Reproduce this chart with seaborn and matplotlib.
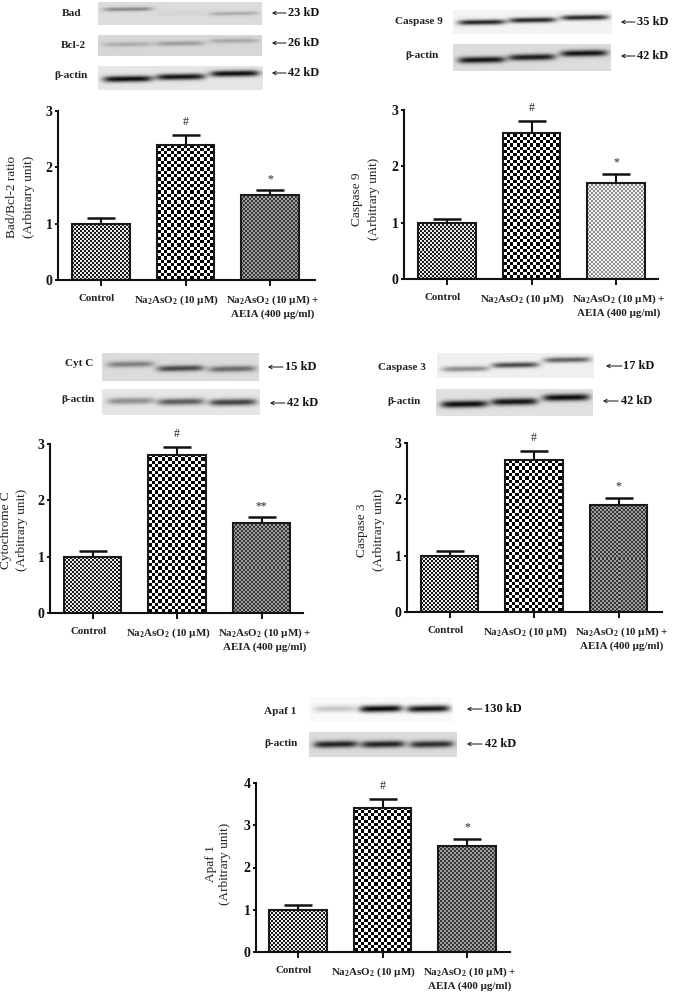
import numpy as np
import pandas as pd
import matplotlib
matplotlib.use("Agg")
import matplotlib.pyplot as plt
from matplotlib.transforms import ScaledTranslation
import seaborn as sns

W, H = 673, 992

# chart values
categories = ["Control", "Na$_2$AsO$_2$ (10 µM)", "Na$_2$AsO$_2$ (10 µM) +\nAEIA (400 µg/ml)"]

bad_vals = [1.0, 2.4, 1.5]
bad_errs = [0.10, 0.17, 0.10]
cas9_vals = [1.0, 2.6, 1.7]
cas9_errs = [0.07, 0.20, 0.17]
cytc_vals = [1.0, 2.8, 1.6]
cytc_errs = [0.10, 0.15, 0.10]
cas3_vals = [1.0, 2.7, 1.9]
cas3_errs = [0.08, 0.16, 0.13]
apaf_vals = [1.0, 3.4, 2.5]
apaf_errs = [0.12, 0.22, 0.18]

sig_marks = ["", "#", "*"]
cytc_marks = ["", "#", "**"]
ticks_3 = [0, 1, 2, 3]
ticks_4 = [0, 1, 2, 3, 4]

# band darkness per lane, read by eye from the blots
bad_bands = [0.38, 0.03, 0.22]
bcl2_bands = [0.20, 0.28, 0.22]
actin1_bands = [0.95, 0.92, 0.95]
cas9_bands = [0.85, 0.85, 0.85]
actin2_bands = [0.92, 0.88, 0.92]
cytc_bands = [0.42, 0.68, 0.52]
actin3_bands = [0.38, 0.60, 0.72]
cas3_bands = [0.42, 0.70, 0.60]
actin4_bands = [0.95, 0.92, 0.95]
apaf_bands = [0.20, 0.97, 0.92]
actin5_bands = [0.85, 0.85, 0.80]

# pattern per bar: cell size in px, dark grey, light grey
ctrl_pat = (2, 0.10, 0.92)
na_pat = (3.3, 0.0, 1.0)
grey_pat = (2, 0.22, 0.62)
light_pat = (2, 0.55, 0.95)

sns.set_style("white")
plt.rcParams["font.family"] = ["Liberation Serif", "DejaVu Serif"]
plt.rcParams["mathtext.default"] = "regular"
plt.rcParams["font.weight"] = "bold"

fig = plt.figure(figsize=(W / 100, H / 100), dpi=100)

# whole-figure layer in pixel coordinates for blots and their labels
top = fig.add_axes([0, 0, 1, 1])
top.set_axis_off()


def draw_blot(x0, x1, y0, y1, bg, bands, ys, thick=0.11):
    """Paint a small gel strip: soft dark bands on a grey background."""
    nx, ny = int(x1 - x0) * 2, int(y1 - y0) * 2
    xx, yy = np.meshgrid(np.linspace(0, 1, nx), np.linspace(0, 1, ny))
    img = np.full(xx.shape, float(bg))
    centers = [0.18, 0.50, 0.83]
    dark = np.zeros(xx.shape)
    for c, d, yc in zip(centers, bands, ys):
        win = np.exp(-((xx - c) / 0.15) ** 6)
        tilt = yc + (c - xx) * 0.10
        dark += d * win * np.exp(-((yy - tilt) / thick) ** 2)
    img = img * (1 - np.clip(dark, 0, 1))
    top.imshow(img, extent=(x0, x1, y1, y0), cmap="gray", vmin=0, vmax=1,
               aspect="auto", interpolation="bilinear", zorder=1)


def blot_label(text, x, y, ax0, ax1, kd_x, kd, kd_y=None):
    top.text(x, y, text, ha="center", va="center", fontsize=8.1, color="#222222")
    kd_y = y if kd_y is None else kd_y
    top.annotate("", xy=(ax0, kd_y), xytext=(ax1, kd_y),
                 arrowprops=dict(arrowstyle="->,head_length=0.22,head_width=0.12",
                                 lw=0.7, color="#111111", shrinkA=0, shrinkB=0))
    top.text(kd_x, kd_y, kd, ha="left", va="center", fontsize=8.9, color="#111111")


# panel 1
draw_blot(98, 262, 2, 25, 0.86, bad_bands, [0.31, 0.50, 0.50], 0.09)
draw_blot(98, 262, 35, 56, 0.84, bcl2_bands, [0.44, 0.40, 0.27])
draw_blot(98, 263, 66, 90, 0.90, actin1_bands, [0.54, 0.45, 0.31], 0.13)
blot_label("Bad", 72, 14, 272, 286, 288, "23 kD", 13)
blot_label("Bcl-2", 73, 45, 272, 286, 288, "26 kD", 43)
blot_label("β-actin", 71, 75, 272, 286, 288, "42 kD", 73)

# panel 2
draw_blot(453, 612, 10, 34, 0.95, cas9_bands, [0.51, 0.42, 0.31])
draw_blot(453, 611, 44, 71, 0.86, actin2_bands, [0.59, 0.49, 0.34], 0.12)
blot_label("Caspase 9", 419, 22, 621, 635, 637, "35 kD")
blot_label("β-actin", 422, 56, 621, 635, 637, "42 kD")

# panel 3
draw_blot(102, 259, 353, 381, 0.86, cytc_bands, [0.40, 0.55, 0.57])
draw_blot(102, 260, 389, 415, 0.90, actin3_bands, [0.46, 0.49, 0.51], 0.13)
blot_label("Cyt C", 79, 364, 268, 283, 285, "15 kD", 367)
blot_label("β-actin", 78, 400, 270, 285, 287, "42 kD", 403)

# panel 4
draw_blot(437, 594, 353, 378, 0.94, cas3_bands, [0.64, 0.48, 0.27])
draw_blot(436, 593, 389, 416, 0.88, actin4_bands, [0.56, 0.47, 0.31], 0.13)
blot_label("Caspase 3", 402, 367, 606, 622, 623, "17 kD", 366)
blot_label("β-actin", 404, 401, 603, 618, 621, "42 kD")

# panel 5
draw_blot(309, 453, 697, 722, 0.98, apaf_bands, [0.47, 0.47, 0.47], 0.14)
draw_blot(309, 457, 732, 757, 0.86, actin5_bands, [0.49, 0.49, 0.49], 0.14)
blot_label("Apaf 1", 280, 711, 467, 482, 484, "130 kD", 709)
blot_label("β-actin", 281, 744, 467, 482, 485, "42 kD")

top.set_xlim(0, W)
top.set_ylim(H, 0)


def checker(ax, bar, pattern):
    """Fill a bar with a checkerboard, one array cell per screen pixel so nothing gets resampled."""
    cell, dark, light = pattern
    p0 = np.round(ax.transData.transform((bar.get_x(), 0)))
    p1 = np.round(ax.transData.transform((bar.get_x() + bar.get_width(), bar.get_height())))
    nx, ny = int(p1[0] - p0[0]), int(p1[1] - p0[1])
    d0 = ax.transData.inverted().transform(p0)
    d1 = ax.transData.inverted().transform(p1)
    ii, jj = np.indices((ny, nx))
    arr = np.where((np.floor(ii / cell) + np.floor(jj / cell)) % 2 == 0, dark, light)
    ax.imshow(arr, extent=(d0[0], d1[0], d0[1], d1[1]), cmap="gray", vmin=0, vmax=1,
              aspect="auto", interpolation="nearest", zorder=1.5, origin="lower")


def draw_panel(vals, errs, marks, ticks, patterns, box, first, step, ylabel, label_xy, line_sp=1.5):
    left, right, ytop, y0 = box
    ax = fig.add_axes([left / W, 1 - y0 / H, (right - left) / W, (y0 - ytop) / H])
    ax.patch.set_alpha(0)
    df = pd.DataFrame({"group": categories, "value": vals})
    sns.barplot(data=df, x="group", y="value", ax=ax, color="white",
                edgecolor="#1a1a1a", linewidth=1.5, width=0.68, zorder=2,
                fill=True, errorbar=None)
    xlim = ((left - first) / step, (right - first) / step)
    ax.set_xlim(xlim)
    ax.set_ylim(0, ticks[-1])

    for bar, pat in zip(list(ax.patches), patterns):
        checker(ax, bar, pat)
        bar.set_facecolor("none")
    ax.set_xlim(xlim)
    ax.set_ylim(0, ticks[-1])

    ax.errorbar(range(3), vals, yerr=[[0, 0, 0], errs], fmt="none", ecolor="#111111",
                elinewidth=1.5, capsize=10, capthick=1.8, zorder=1)
    for i, m in enumerate(marks):
        if m:
            off = 13 if m == "#" else 11
            ax.annotate(m, (i, vals[i] + errs[i]), xytext=(0, off * 0.72),
                        textcoords="offset points", ha="center", va="center",
                        fontsize=8.5, fontweight="normal", color="#222222")

    sns.despine(ax=ax)
    ax.spines["left"].set_linewidth(1.5)
    ax.spines["bottom"].set_linewidth(1.5)
    ax.spines["left"].set_color("#111111")
    ax.spines["bottom"].set_color("#111111")
    ax.set_yticks(ticks)
    ax.set_yticklabels([str(t) for t in ticks], fontsize=10, color="#111111")
    ax.tick_params(axis="y", length=2.4, width=1.4, pad=1.4, left=True, color="#111111")
    ax.tick_params(axis="x", length=4, width=1.4, pad=6, bottom=True, color="#111111")
    ax.set_xlabel("")
    ax.set_ylabel("")
    ax.set_xticks(range(3))
    ax.set_xticklabels(categories, fontsize=7.95, color="#222222", linespacing=1.22)
    # group labels sit a little off their ticks in the original
    for lab, dx in zip(ax.get_xticklabels(), [-4, -9, 3]):
        lab.set_transform(lab.get_transform() + ScaledTranslation(dx / 100, 0, fig.dpi_scale_trans))
    top.text(label_xy[0], label_xy[1], ylabel + "\n(Arbitrary unit)", rotation=90,
             ha="center", va="center", multialignment="center", fontsize=9.5,
             fontweight="normal", color="#222222", linespacing=line_sp)
    return ax


draw_panel(bad_vals, bad_errs, sig_marks, ticks_3, [ctrl_pat, na_pat, grey_pat],
           (58, 315, 111, 280), 101, 84.5, "Bad/Bcl-2 ratio", (20.5, 197))
draw_panel(cas9_vals, cas9_errs, sig_marks, ticks_3, [ctrl_pat, na_pat, light_pat],
           (404, 658, 110, 279), 447, 84.5, "Caspase 9", (365.5, 199))
draw_panel(cytc_vals, cytc_errs, cytc_marks, ticks_3, [ctrl_pat, na_pat, grey_pat],
           (50, 303, 444, 613), 92.5, 84.5, "Cytochrome C", (14, 530))
draw_panel(cas3_vals, cas3_errs, sig_marks, ticks_3, [ctrl_pat, na_pat, grey_pat],
           (407, 662, 443, 612), 449.5, 84.5, "Caspase 3", (370.5, 530))
draw_panel(apaf_vals, apaf_errs, sig_marks, ticks_4, [ctrl_pat, na_pat, grey_pat],
           (256, 510, 783, 952), 298, 84.5, "Apaf 1", (218, 864), 1.12)

fig.savefig("out.png", dpi=100)
